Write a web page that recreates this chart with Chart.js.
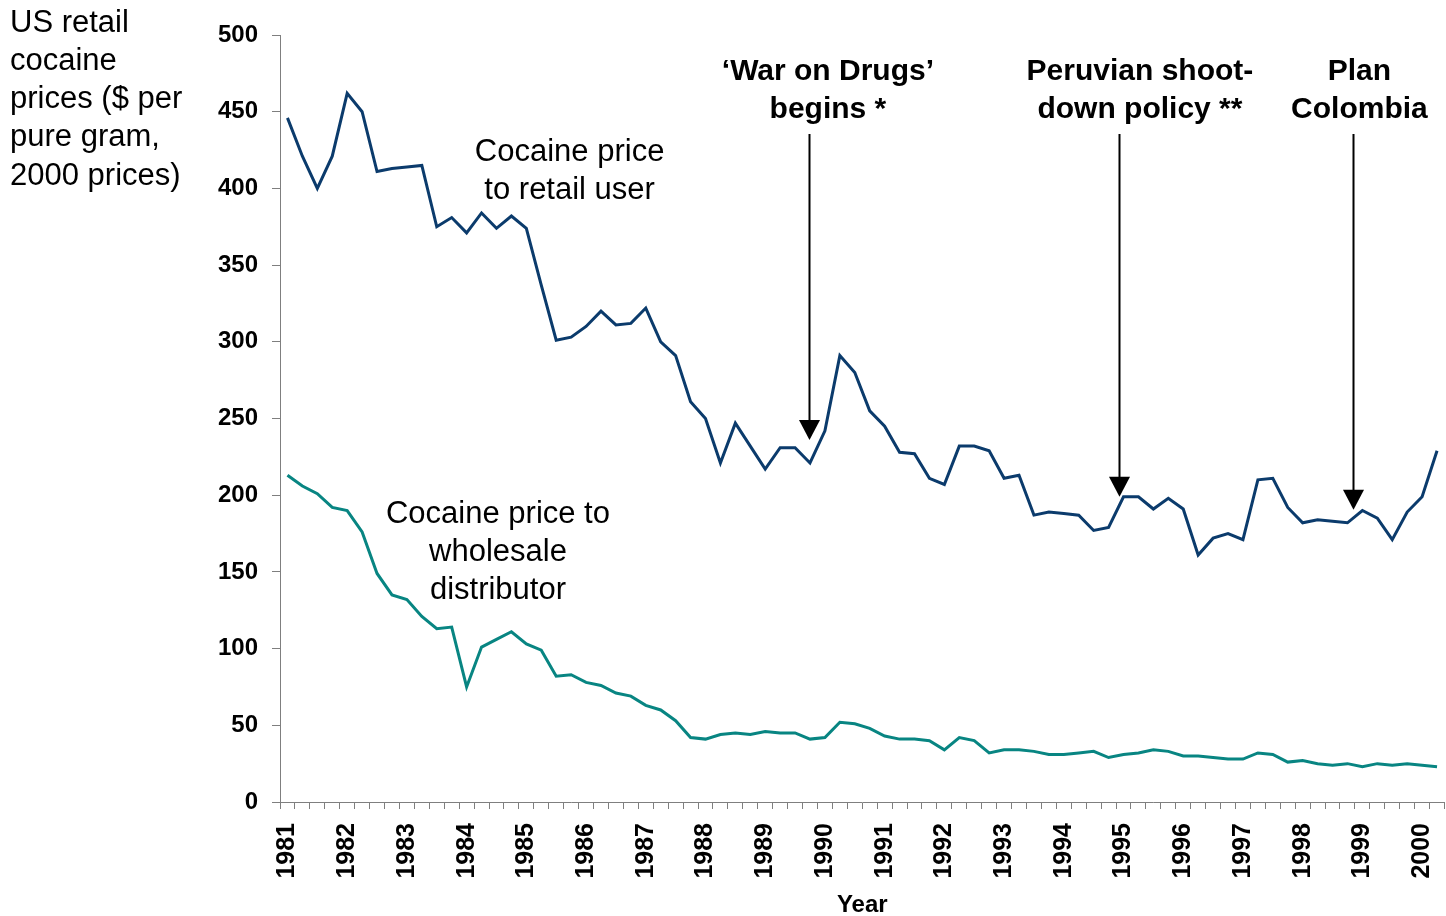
<!DOCTYPE html>
<html>
<head>
<meta charset="utf-8">
<title>US retail cocaine prices</title>
<script src="https://cdn.jsdelivr.net/npm/chart.js@4.4.0/dist/chart.umd.min.js"></script>
<style>
    html, body { margin: 0; padding: 0; background: #fff; }
    #wrap { width: 1446px; height: 916px; position: relative; }
</style>
</head>
<body>
<div id="wrap"><canvas id="chart"></canvas></div>
<script>
// quarterly series, 1981 Q1 .. 2000 Q2
const YEARS = [1981, 1982, 1983, 1984, 1985, 1986, 1987, 1988, 1989, 1990,
    1991, 1992, 1993, 1994, 1995, 1996, 1997, 1998, 1999, 2000];
const QUARTERS = ['Q1', 'Q2', 'Q3', 'Q4'];

const retailPrice = [
    446, 421, 400, 421, 462, 450, 411, 413, 414, 415,
    375, 381, 371, 384, 374, 382, 374, 337, 301, 303,
    310, 320, 311, 312, 322, 300, 291, 261, 250, 221,
    247, 232, 217, 231, 231, 221, 242, 291, 280, 255,
    245, 228, 227, 211, 207, 232, 232, 229, 211, 213,
    187, 189, 188, 187, 177, 179, 199, 199, 191, 198,
    191, 161, 172, 175, 171, 210, 211, 192, 182, 184,
    183, 182, 190, 185, 171, 189, 199, 229
];

const wholesalePrice = [
    213, 206, 201, 192, 190, 176, 149, 135, 132, 121,
    113, 114, 75, 101, 106, 111, 103, 99, 82, 83,
    78, 76, 71, 69, 63, 60, 53, 42, 41, 44,
    45, 44, 46, 45, 45, 41, 42, 52, 51, 48,
    43, 41, 41, 40, 34, 42, 40, 32, 34, 34,
    33, 31, 31, 32, 33, 29, 31, 32, 34, 33,
    30, 30, 29, 28, 28, 32, 31, 26, 27, 25,
    24, 25, 23, 25, 24, 25, 24, 23
];

const yAxisTitle = ['US retail', 'cocaine', 'prices ($ per', 'pure gram,', '2000 prices)'];

// text notes placed in data units (x = quarter index, y = price)
const notes = [
    { lines: ['Cocaine price', 'to retail user'], x: 18.9, y: 424, bold: false },
    { lines: ['Cocaine price to', 'wholesale', 'distributor'], x: 14.1, y: 188, bold: false },
    { lines: ['\u2018War on Drugs\u2019', 'begins *'], x: 36.2, y: 476.5, bold: true },
    { lines: ['Peruvian shoot-', 'down policy **'], x: 57.1, y: 476.5, bold: true },
    { lines: ['Plan', 'Colombia'], x: 71.8, y: 476.5, bold: true }
];

const arrows = [
    { x: 34.95, from: 435.5, to: 236 },
    { x: 55.7, from: 435.5, to: 199 },
    { x: 71.4, from: 435.5, to: 190.5 }
];

const labels = YEARS.flatMap(y => QUARTERS.map(q => y + ' ' + q)).slice(0, retailPrice.length);

const FONT = '"Liberation Sans", Arial, Helvetica, sans-serif';
const AXIS_GREY = '#7f7f7f';

const notesPlugin = {
    id: 'notes',
    afterDraw(chart) {
        const ctx = chart.ctx;
        const xs = chart.scales.x;
        const ys = chart.scales.y;
        ctx.save();
        ctx.fillStyle = '#000';

        // y axis title, top left
        ctx.font = '31px ' + FONT;
        ctx.textAlign = 'left';
        ctx.textBaseline = 'middle';
        yAxisTitle.forEach((line, i) => ctx.fillText(line, 10, 23 + i * 38.3));

        // notes
        ctx.textAlign = 'center';
        notes.forEach(n => {
            ctx.font = (n.bold ? 'bold 30px ' : '31px ') + FONT;
            const px = xs.getPixelForValue(n.x);
            const py = ys.getPixelForValue(n.y);
            n.lines.forEach((line, i) => ctx.fillText(line, px, py + 1 + i * 38));
        });

        // arrows
        ctx.strokeStyle = '#000';
        ctx.lineWidth = 2;
        arrows.forEach(a => {
            const px = Math.round(xs.getPixelForValue(a.x)) + 0.5;
            const top = ys.getPixelForValue(a.from);
            const tip = ys.getPixelForValue(a.to);
            ctx.beginPath();
            ctx.moveTo(px, top);
            ctx.lineTo(px, tip - 18);
            ctx.stroke();
            ctx.beginPath();
            ctx.moveTo(px - 10.5, tip - 20);
            ctx.lineTo(px + 10.5, tip - 20);
            ctx.lineTo(px, tip);
            ctx.closePath();
            ctx.fill();
        });
        ctx.restore();
    }
};

const ctx = document.getElementById('chart').getContext('2d');
new Chart(ctx, {
    type: 'line',
    data: {
        labels: labels,
        datasets: [
            {
                label: 'Cocaine price to retail user',
                data: retailPrice,
                borderColor: '#0b3b6c',
                borderWidth: 3,
                pointRadius: 0,
                tension: 0,
                fill: false
            },
            {
                label: 'Cocaine price to wholesale distributor',
                data: wholesalePrice,
                borderColor: '#088582',
                borderWidth: 3,
                pointRadius: 0,
                tension: 0,
                fill: false
            }
        ]
    },
    options: {
        responsive: true,
        maintainAspectRatio: false,
        animation: false,
        layout: { padding: { top: 35, right: 1.5, bottom: 0, left: 0 } },
        plugins: {
            legend: { display: false },
            tooltip: { enabled: false }
        },
        scales: {
            x: {
                type: 'category',
                offset: true,
                grid: {
                    offset: true,
                    drawOnChartArea: false,
                    drawTicks: true,
                    tickLength: 7,
                    color: AXIS_GREY
                },
                border: { color: AXIS_GREY, width: 1 },
                ticks: {
                    autoSkip: false,
                    maxRotation: 90,
                    minRotation: 90,
                    padding: 14,
                    color: '#000',
                    font: { family: FONT, size: 25, weight: 'bold' },
                    callback: function (value) {
                        const lbl = this.getLabelForValue(value);
                        return lbl.endsWith('Q1') ? lbl.slice(0, 4) : '';
                    }
                },
                title: {
                    display: true,
                    text: 'Year',
                    color: '#000',
                    font: { family: FONT, size: 24, weight: 'bold', lineHeight: 0.85 },
                    padding: { top: 0, bottom: 0 }
                },
                afterFit: s => {
                    s.height = 114;
                    s.paddingLeft = 0;
                    s.paddingRight = 0;
                }
            },
            y: {
                min: 0,
                max: 500,
                grid: {
                    drawOnChartArea: false,
                    drawTicks: true,
                    tickLength: 8,
                    color: AXIS_GREY
                },
                border: { color: AXIS_GREY, width: 1 },
                ticks: {
                    stepSize: 50,
                    padding: 14,
                    color: '#000',
                    font: { family: FONT, size: 24, weight: 'bold' }
                },
                afterFit: s => { s.width = 280; }
            }
        }
    },
    plugins: [notesPlugin]
});
</script>
</body>
</html>
